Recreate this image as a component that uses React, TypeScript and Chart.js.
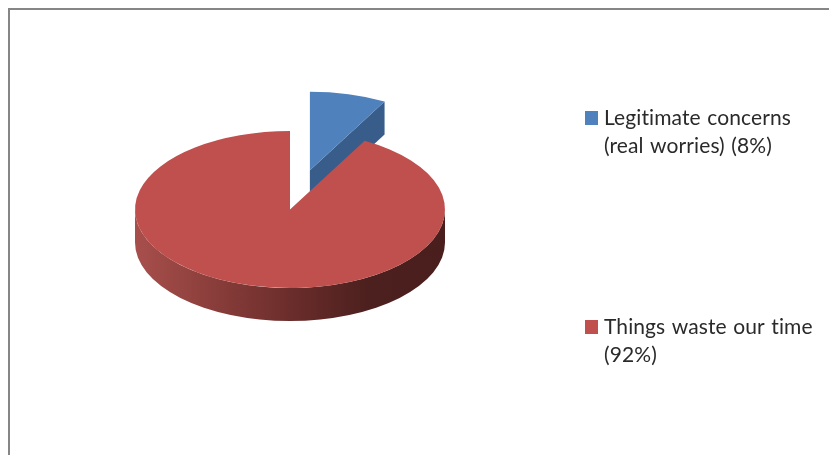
import { useEffect, useRef } from "react";
import { Chart, registerables } from "chart.js";
import type { Plugin } from "chart.js";

Chart.register(...registerables);

const categories = [
  ["Legitimate concerns", "(real worries) (8%)"],
  ["Things waste our time", "(92%)"],
];
const shares = [8, 92];
const pullOut = [80, 0];
const topColors = ["#4f81bd", "#c0504d"];
const cutFaceColors = ["#385d8a", "#4a1e1c"];

const CENTER_X = 290;
const CENTER_Y = 209.5;
const RADIUS = 155;
const TILT = 0.506;
const DEPTH = 33;

const LEGEND_X = 585;
const LEGEND_TEXT_X = 604;
const LEGEND_TOPS = [111, 320];
const LEGEND_LINE = 28;

// Moves each slice along its mid-angle before the tilt is applied.
const explode: Plugin<"pie"> = {
  id: "explode",
  afterDatasetsUpdate(chart) {
    (chart.getDatasetMeta(0).data as any[]).forEach((arc, i) => {
      const mid = (arc.startAngle + arc.endAngle) / 2;
      arc.x += Math.cos(mid) * pullOut[i];
      arc.y += Math.sin(mid) * pullOut[i];
    });
  },
};

// Extruded side walls, drawn under the flattened top faces.
const extrusion: Plugin<"pie"> = {
  id: "extrusion",
  beforeDatasetsDraw(chart) {
    const { ctx } = chart;
    (chart.getDatasetMeta(0).data as any[]).forEach((arc, i) => {
      const { x, y, endAngle, outerRadius } = arc;
      const cx = x;
      const cy = CENTER_Y + (y - CENTER_Y) * TILT;
      const px = (a: number) => cx + Math.cos(a) * outerRadius;
      const py = (a: number) => cy + Math.sin(a) * outerRadius * TILT;

      if (i === 0) {
        // Radial face along the trailing edge of the pulled-out slice.
        ctx.beginPath();
        ctx.moveTo(cx, cy);
        ctx.lineTo(px(endAngle), py(endAngle));
        ctx.lineTo(px(endAngle), py(endAngle) + DEPTH);
        ctx.lineTo(cx, cy + DEPTH);
        ctx.closePath();
        ctx.fillStyle = cutFaceColors[i];
        ctx.fill();
        return;
      }

      // Front rim: the lower half of the ellipse pushed down by the depth.
      const rim = ctx.createLinearGradient(cx - outerRadius, 0, cx + outerRadius, 0);
      rim.addColorStop(0, "#a84f4c");
      rim.addColorStop(0.25, "#8a3e3b");
      rim.addColorStop(0.5, "#6b2d2b");
      rim.addColorStop(0.75, "#4c201e");
      rim.addColorStop(1, cutFaceColors[i]);
      ctx.beginPath();
      ctx.ellipse(cx, cy, outerRadius, outerRadius * TILT, 0, 0, Math.PI);
      ctx.ellipse(cx, cy + DEPTH, outerRadius, outerRadius * TILT, 0, Math.PI, 0, true);
      ctx.closePath();
      ctx.fillStyle = rim;
      ctx.fill();
    });
  },
};

// Squashes the circular arcs into the tilted ellipse.
const tilt: Plugin<"pie"> = {
  id: "tilt",
  beforeDatasetDraw(chart) {
    const { ctx } = chart;
    ctx.save();
    ctx.translate(CENTER_X, CENTER_Y);
    ctx.scale(1, TILT);
    ctx.translate(-CENTER_X, -CENTER_Y);
  },
  afterDatasetDraw(chart) {
    chart.ctx.restore();
  },
};

// Two-line legend entries spread down the right-hand side.
const sideLegend: Plugin<"pie"> = {
  id: "sideLegend",
  afterDraw(chart) {
    const { ctx } = chart as any;
    ctx.save();
    ctx.font = '21px Lato, "Open Sans", sans-serif';
    ctx.letterSpacing = "0.1px";
    ctx.wordSpacing = "1px";
    ctx.textBaseline = "alphabetic";
    (chart.data.labels as string[][]).forEach((lines, i) => {
      ctx.fillStyle = topColors[i];
      ctx.fillRect(LEGEND_X, LEGEND_TOPS[i], 13, 14);
      ctx.fillStyle = "#2a2a2a";
      lines.forEach((line, j) => {
        ctx.fillText(line, LEGEND_TEXT_X, LEGEND_TOPS[i] + 14 + j * LEGEND_LINE);
      });
    });
    ctx.restore();
  },
};

export default function App() {
  const canvasRef = useRef<HTMLCanvasElement>(null);

  useEffect(() => {
    const chart = new Chart(canvasRef.current!, {
      type: "pie",
      data: {
        labels: categories,
        datasets: [
          {
            data: shares,
            backgroundColor: topColors,
            borderWidth: 0,
            clip: false,
          } as any,
        ],
      },
      options: {
        animation: false,
        responsive: false,
        radius: RADIUS,
        layout: {
          padding: { left: 0, top: 0, right: 829 - 2 * CENTER_X, bottom: 455 - 2 * CENTER_Y },
        },
        plugins: { legend: { display: false }, tooltip: { enabled: false } },
      } as any,
      plugins: [explode, extrusion, tilt, sideLegend],
    });
    return () => chart.destroy();
  }, []);

  return (
    <div style={{ position: "fixed", inset: 0, background: "#fff", overflow: "hidden" }}>
      <canvas
        ref={canvasRef}
        width={829}
        height={455}
        style={{ position: "absolute", left: 0, top: 0, display: "block" }}
      />
      <div
        style={{
          position: "absolute",
          left: 8,
          top: 8,
          right: 0,
          bottom: 0,
          borderLeft: "2px solid #868686",
          borderTop: "2px solid #868686",
        }}
      />
    </div>
  );
}
